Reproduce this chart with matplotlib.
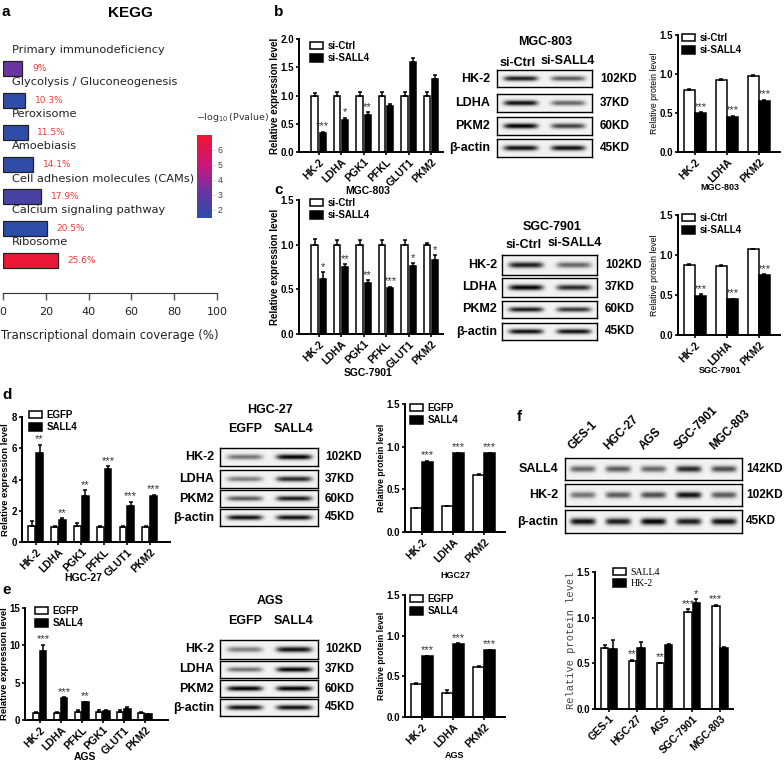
""" SALL4 / glycolysis figure """
import numpy as np
import matplotlib
matplotlib.use('Agg')
import matplotlib.pyplot as plt
from matplotlib.colors import LinearSegmentedColormap, Normalize
from matplotlib.cm import ScalarMappable
from matplotlib.patches import Patch

plt.rcParams['font.family'] = ['Liberation Sans', 'DejaVu Sans']

# ---- a: KEGG ----
kegg_terms = ['Primary immunodeficiency', 'Glycolysis / Gluconeogenesis', 'Peroxisome',
              'Amoebiasis', 'Cell adhesion molecules (CAMs)', 'Calcium signaling pathway', 'Ribosome']
kegg_cov = [9.0, 10.3, 11.5, 14.1, 17.9, 20.5, 25.6]
kegg_logp = [3.2, 1.6, 1.6, 1.6, 2.3, 1.5, 6.8]

# ---- b / c: knockdown ----
genes6 = ['HK-2', 'LDHA', 'PGK1', 'PFKL', 'GLUT1', 'PKM2']
genes3 = ['HK-2', 'LDHA', 'PKM2']
b_ctrl = [1.0, 1.0, 1.0, 1.0, 1.0, 1.0]
b_ctrl_err = [0.05, 0.07, 0.06, 0.07, 0.06, 0.06]
b_si = [0.34, 0.57, 0.65, 0.81, 1.59, 1.29]
b_si_err = [0.02, 0.04, 0.05, 0.04, 0.08, 0.08]
b_stars = ['***', '*', '**', '', '', '']
b_prot_ctrl = [0.80, 0.92, 0.98]
b_prot_ctrl_err = [0.01, 0.01, 0.01]
b_prot_si = [0.50, 0.45, 0.66]
b_prot_si_err = [0.01, 0.01, 0.01]
b_prot_stars = ['***', '***', '***']
b_blot = {'HK-2': [0.85, 0.6], 'LDHA': [0.9, 0.55], 'PKM2': [0.95, 0.7], 'β-actin': [0.9, 0.9]}

c_ctrl = [1.0, 1.0, 1.0, 1.0, 1.0, 1.0]
c_ctrl_err = [0.06, 0.05, 0.05, 0.05, 0.05, 0.02]
c_si = [0.62, 0.75, 0.57, 0.52, 0.76, 0.83]
c_si_err = [0.07, 0.03, 0.03, 0.01, 0.03, 0.05]
c_stars = ['*', '**', '**', '***', '*', '*']
c_prot_ctrl = [0.88, 0.86, 1.07]
c_prot_ctrl_err = [0.005, 0.02, 0.005]
c_prot_si = [0.49, 0.45, 0.75]
c_prot_si_err = [0.02, 0.005, 0.01]
c_prot_stars = ['***', '***', '***']
c_blot = {'HK-2': [0.85, 0.55], 'LDHA': [0.95, 0.8], 'PKM2': [0.85, 0.75], 'β-actin': [0.9, 0.9]}

# ---- d / e: overexpression ----
d_egfp = [1.0, 0.97, 1.0, 0.97, 0.97, 0.97]
d_egfp_err = [0.35, 0.05, 0.2, 0.06, 0.06, 0.06]
d_sall4 = [5.7, 1.42, 2.95, 4.65, 2.3, 2.95]
d_sall4_err = [0.5, 0.1, 0.35, 0.2, 0.25, 0.05]
d_stars = ['**', '**', '**', '***', '***', '***']
d_prot_egfp = [0.28, 0.30, 0.67]
d_prot_egfp_err = [0.005, 0.01, 0.01]
d_prot_sall4 = [0.82, 0.92, 0.92]
d_prot_sall4_err = [0.01, 0.005, 0.005]
d_prot_stars = ['***', '***', '***']
d_blot = {'HK-2': [0.5, 0.95], 'LDHA': [0.45, 0.8], 'PKM2': [0.6, 0.85], 'β-actin': [0.9, 0.9]}

genes6_e = ['HK-2', 'LDHA', 'PFKL', 'PGK1', 'GLUT1', 'PKM2']
e_egfp = [1.0, 1.0, 1.1, 1.1, 1.1, 1.0]
e_egfp_err = [0.1, 0.05, 0.2, 0.3, 0.2, 0.05]
e_sall4 = [9.3, 3.0, 2.4, 1.25, 1.5, 0.8]
e_sall4_err = [0.8, 0.05, 0.05, 0.1, 0.3, 0.05]
e_stars = ['***', '***', '**', '', '', '']
e_prot_egfp = [0.40, 0.30, 0.62]
e_prot_egfp_err = [0.02, 0.03, 0.005]
e_prot_sall4 = [0.75, 0.90, 0.82]
e_prot_sall4_err = [0.005, 0.005, 0.005]
e_prot_stars = ['***', '***', '***']
e_blot = {'HK-2': [0.45, 0.9], 'LDHA': [0.5, 0.95], 'PKM2': [0.95, 0.97], 'β-actin': [0.9, 0.9]}

# ---- f: cell lines ----
f_lines = ['GES-1', 'HGC-27', 'AGS', 'SGC-7901', 'MGC-803']
f_sall4 = [0.67, 0.53, 0.50, 1.06, 1.13]
f_sall4_err = [0.03, 0.01, 0.005, 0.03, 0.01]
f_hk2 = [0.66, 0.67, 0.70, 1.16, 0.67]
f_hk2_err = [0.10, 0.06, 0.01, 0.04, 0.005]
f_sall4_stars = ['', '**', '**', '***', '***']
f_hk2_stars = ['', '', '', '*', '']
f_blot = {'SALL4': [0.55, 0.6, 0.55, 0.8, 0.65], 'HK-2': [0.5, 0.6, 0.65, 0.9, 0.6],
          'β-actin': [0.9, 0.85, 0.95, 0.85, 0.9]}

W, H = 784, 765
fig = plt.figure(figsize=(W / 100, H / 100), dpi=100)


def box(x0, y0, x1, y1):
    # axes from pixel corners (top-left origin)
    ax = fig.add_axes([x0 / W, 1 - y1 / H, (x1 - x0) / W, (y1 - y0) / H])
    ax._px = (x0, x1)
    return ax


def ftext(x, y, s, **kw):
    fig.text(x / W, 1 - y / H, s, **kw)


def grouped(ax, labels, v1, e1, v2, e2, st1, st2, width, off, ylim, yticks, ytl,
            ylabel, ylabel_kw, ylabel_x, fs=7, star_fs=8):
    x = np.arange(len(labels))
    ax.bar(x - off, v1, width, color='white', edgecolor='black', lw=1.1, zorder=2)
    ax.bar(x + off, v2, width, color='black', edgecolor='black', lw=1.1, zorder=2)
    ax.errorbar(x - off, v1, yerr=[np.zeros(len(x)), e1], fmt='none', ecolor='black',
                elinewidth=1.1, capsize=1.6, capthick=1.1, zorder=3)
    ax.errorbar(x + off, v2, yerr=[np.zeros(len(x)), e2], fmt='none', ecolor='black',
                elinewidth=1.1, capsize=1.6, capthick=1.1, zorder=3)
    pad = (ylim[1] - ylim[0]) * 0.005
    for i in range(len(x)):
        if st1[i]:
            ax.text(x[i] - off, v1[i] + e1[i] + pad, st1[i], ha='center', va='bottom',
                    fontsize=star_fs, color='#333')
        if st2[i]:
            ax.text(x[i] + off, v2[i] + e2[i] + pad, st2[i], ha='center', va='bottom',
                    fontsize=star_fs, color='#333')
    ax.set_ylim(*ylim)
    ax.set_yticks(yticks)
    ax.set_yticklabels(ytl, fontweight='bold', fontsize=fs)
    ax.set_xticks(x)
    ax.set_xticklabels(labels, rotation=45, ha='right', rotation_mode='anchor',
                       fontweight='bold', fontsize=7.5)
    for s in ['top', 'right']:
        ax.spines[s].set_visible(False)
    for s in ['left', 'bottom']:
        ax.spines[s].set_linewidth(1.4)
    ax.tick_params(direction='out', length=2.5, width=1.2, pad=1)
    ax.set_ylabel(ylabel, **ylabel_kw)
    # ylabel_x: right edge of the rotated label, in pixels
    x0, x1 = ax._px
    ax.yaxis.set_label_coords((ylabel_x - x0) / (x1 - x0), 0.5)


def legend(ax, x, y, names, fs=7, weight='bold', family=None):
    hs = [Patch(facecolor='white', edgecolor='black', lw=1.1),
          Patch(facecolor='black', edgecolor='black', lw=1.1)]
    prop = {'size': fs, 'weight': weight}
    if family:
        prop['family'] = family
    ax.legend(hs, names, loc='upper left', bbox_to_anchor=(x / W, 1 - y / H),
              bbox_transform=fig.transFigure, frameon=False, handlelength=1.3,
              handleheight=0.75, borderpad=0, borderaxespad=0, labelspacing=0.25,
              handletextpad=0.5, prop=prop)


def blot(x0, x1, rows, blots, label_x, kd_x, kds, fs=9):
    for (name, (y0, y1)), kd in zip(rows.items(), kds):
        ax = box(x0, y0, x1, y1)
        vals = blots[name]
        n = len(vals)
        xs = np.linspace(0, n, 240)
        ys = np.linspace(-1, 1, 40)
        img = np.full((40, 240), 0.05)
        for k, v in enumerate(vals):
            px = np.exp(-((xs - k - 0.5) / 0.36) ** 6)
            py = np.exp(-(ys / 0.3) ** 2)
            img += v * np.outer(py, px)
        ax.imshow(np.clip(img, 0, 1), cmap='gray_r', vmin=0, vmax=1, aspect='auto',
                  extent=(0, n, -1, 1), interpolation='bilinear')
        ax.set_xticks([])
        ax.set_yticks([])
        for s in ax.spines.values():
            s.set_linewidth(1.0)
        yc = (y0 + y1) / 2
        ftext(label_x, yc, name, ha='right', va='center', fontsize=fs, fontweight='bold')
        ftext(kd_x, yc, kd, ha='left', va='center', fontsize=fs - 0.5, fontweight='bold')


t15 = [0, 0.5, 1.0, 1.5]
t15l = ['0.0', '0.5', '1.0', '1.5']

# ================= a =================
ftext(2, 12, 'a', fontsize=11, fontweight='bold', va='center')
ftext(130, 13, 'KEGG', fontsize=11, fontweight='bold', ha='center', va='center')
cmap = LinearSegmentedColormap.from_list('kegg', [(0, '#2a4ea8'), (0.32, '#6a34a2'),
                                                  (0.62, '#c8177f'), (1, '#f0162e')])
norm = Normalize(1.45, 7.0)
ax_a = box(3, 40, 217, 293)
ya = np.arange(len(kegg_terms))
ax_a.barh(ya, kegg_cov, height=0.47, color=cmap(norm(np.array(kegg_logp))),
          edgecolor='#222', lw=0.9)
for i, (t, v) in enumerate(zip(kegg_terms, kegg_cov)):
    ax_a.text(4.2, i - 0.58, t, fontsize=8.2, va='center', ha='left', color='#222',
              family='DejaVu Sans')
    ax_a.text(v + 4.5, i, f'{v:g}%', fontsize=6.5, va='center', color='#f03a3a',
              family='DejaVu Sans')
ax_a.set_xlim(0, 100)
ax_a.set_ylim(len(kegg_terms) - 1 + 1.0, -0.89)
ax_a.set_yticks([])
ax_a.set_xticks([0, 20, 40, 60, 80, 100])
for s in ['top', 'right', 'left']:
    ax_a.spines[s].set_visible(False)
ax_a.spines['bottom'].set_color('#333')
ax_a.tick_params(axis='x', length=5, width=1, color='#555', labelsize=8, pad=5,
                 labelcolor='#222')
for t in ax_a.get_xticklabels():
    t.set_family('DejaVu Sans')
ax_a.set_xlabel('Transcriptional domain coverage (%)', fontsize=8.5, family='DejaVu Sans',
                labelpad=9, color='#222')
cax = box(197, 135, 212, 218)
cb = fig.colorbar(ScalarMappable(norm=norm, cmap=cmap), cax=cax)
cb.outline.set_visible(False)
cb.set_ticks([2, 3, 4, 5, 6])
cax.tick_params(labelsize=6.3, length=2, color='#ddd', labelcolor='#444', pad=2)
ftext(196, 118, r'$-\log_{10}$(Pvalue)', fontsize=6.8, color='#333', va='center',
      family='DejaVu Sans')

# ================= b =================
big_lab = dict(fontsize=7, fontweight='bold')
small_lab = dict(fontsize=6.3)
ftext(274, 12, 'b', fontsize=11, fontweight='bold', va='center')
ax = box(299, 39, 443, 152)
grouped(ax, genes6, b_ctrl, b_ctrl_err, b_si, b_si_err, [''] * 6, b_stars, 0.27, 0.18,
        (0, 2.0), [0, 0.5, 1.0, 1.5, 2.0], ['0.0', '0.5', '1.0', '1.5', '2.0'],
        'Relative expression level', big_lab, 280)
ax.set_xlim(-0.87, 5.53)
legend(ax, 310, 41, ['si-Ctrl', 'si-SALL4'])
ftext(368, 191, 'MGC-803', fontsize=7.5, fontweight='bold', ha='center', va='center')

ftext(545, 42, 'MGC-803', fontsize=9, fontweight='bold', ha='center', va='center')
ftext(518, 63, 'si-Ctrl', fontsize=9, fontweight='bold', ha='center', va='center')
ftext(568, 61, 'si-SALL4', fontsize=9, fontweight='bold', ha='center', va='center')
blot(497, 592, {'HK-2': (70, 87), 'LDHA': (94, 112), 'PKM2': (117, 135), 'β-actin': (139, 157)},
     b_blot, 490, 600, ['102KD', '37KD', '60KD', '45KD'])

ax = box(678, 35, 780, 152)
grouped(ax, genes3, b_prot_ctrl, b_prot_ctrl_err, b_prot_si, b_prot_si_err, [''] * 3,
        b_prot_stars, 0.35, 0.175, (0, 1.5), t15, t15l, 'Relative protein level',
        small_lab, 659)
ax.set_xlim(-0.53, 2.66)
legend(ax, 682, 33, ['si-Ctrl', 'si-SALL4'])
ftext(720, 187, 'MGC-803', fontsize=6.5, fontweight='bold', ha='center', va='center')

# ================= c =================
ftext(274, 190, 'c', fontsize=11, fontweight='bold', va='center')
ax = box(299, 200, 443, 334)
grouped(ax, genes6, c_ctrl, c_ctrl_err, c_si, c_si_err, [''] * 6, c_stars, 0.27, 0.18,
        (0, 1.5), t15, t15l, 'Relative expression level', big_lab, 280)
ax.set_xlim(-0.87, 5.53)
legend(ax, 310, 198, ['si-Ctrl', 'si-SALL4'])
ftext(368, 373, 'SGC-7901', fontsize=7.5, fontweight='bold', ha='center', va='center')

ftext(552, 227, 'SGC-7901', fontsize=9, fontweight='bold', ha='center', va='center')
ftext(524, 245, 'si-Ctrl', fontsize=9, fontweight='bold', ha='center', va='center')
ftext(575, 243, 'si-SALL4', fontsize=9, fontweight='bold', ha='center', va='center')
blot(502, 597, {'HK-2': (255, 275), 'LDHA': (278, 297), 'PKM2': (301, 318), 'β-actin': (323, 340)},
     c_blot, 497, 605, ['102KD', '37KD', '60KD', '45KD'])

ax = box(678, 215, 780, 335)
grouped(ax, genes3, c_prot_ctrl, c_prot_ctrl_err, c_prot_si, c_prot_si_err, [''] * 3,
        c_prot_stars, 0.35, 0.175, (0, 1.5), t15, t15l, 'Relative protein level',
        small_lab, 659)
ax.set_xlim(-0.53, 2.66)
legend(ax, 682, 213, ['si-Ctrl', 'si-SALL4'])
ftext(720, 370, 'SGC-7901', fontsize=6.5, fontweight='bold', ha='center', va='center')

# ================= d =================
ftext(2, 395, 'd', fontsize=11, fontweight='bold', va='center')
ax = box(22, 417, 170, 542)
grouped(ax, genes6, d_egfp, d_egfp_err, d_sall4, d_sall4_err, [''] * 6, d_stars, 0.3, 0.17,
        (0, 8), [0, 2, 4, 6, 8], ['0', '2', '4', '6', '8'], 'Relative expression level',
        dict(fontsize=6.8, fontweight='bold'), 10)
ax.set_xlim(-0.6, 5.89)
legend(ax, 29, 410, ['EGFP', 'SALL4'])
ftext(83, 578, 'HGC-27', fontsize=7.5, fontweight='bold', ha='center', va='center')

ftext(270, 410, 'HGC-27', fontsize=9, fontweight='bold', ha='center', va='center')
ftext(245, 429, 'EGFP', fontsize=9, fontweight='bold', ha='center', va='center')
ftext(294, 429, 'SALL4', fontsize=9, fontweight='bold', ha='center', va='center')
blot(220, 318, {'HK-2': (448, 466), 'LDHA': (470, 488), 'PKM2': (490, 507), 'β-actin': (509, 526)},
     d_blot, 214, 325, ['102KD', '37KD', '60KD', '45KD'])

ax = box(405, 404, 505, 532)
grouped(ax, genes3, d_prot_egfp, d_prot_egfp_err, d_prot_sall4, d_prot_sall4_err, [''] * 3,
        d_prot_stars, 0.35, 0.175, (0, 1.5), t15, t15l, 'Relative protein level',
        dict(fontsize=6.3, fontweight='bold'), 386)
ax.set_xlim(-0.53, 2.66)
legend(ax, 410, 403, ['EGFP', 'SALL4'])
ftext(455, 575, 'HGC27', fontsize=6.5, fontweight='bold', ha='center', va='center')

# ================= e =================
ftext(2, 590, 'e', fontsize=11, fontweight='bold', va='center')
ax = box(25, 608, 168, 720)
grouped(ax, genes6_e, e_egfp, e_egfp_err, e_sall4, e_sall4_err, [''] * 6, e_stars, 0.3, 0.17,
        (0, 15), [0, 5, 10, 15], ['0', '5', '10', '15'], 'Relative expression level',
        dict(fontsize=6.8, fontweight='bold'), 9)
ax.set_xlim(-0.7, 6.1)
legend(ax, 35, 606, ['EGFP', 'SALL4'])
ftext(85, 757, 'AGS', fontsize=7.5, fontweight='bold', ha='center', va='center')

ftext(270, 601, 'AGS', fontsize=9, fontweight='bold', ha='center', va='center')
ftext(245, 621, 'EGFP', fontsize=9, fontweight='bold', ha='center', va='center')
ftext(294, 621, 'SALL4', fontsize=9, fontweight='bold', ha='center', va='center')
blot(220, 318, {'HK-2': (640, 659), 'LDHA': (661, 678), 'PKM2': (680, 697), 'β-actin': (699, 716)},
     e_blot, 214, 325, ['102KD', '37KD', '60KD', '45KD'])

ax = box(405, 595, 505, 717)
grouped(ax, genes3, e_prot_egfp, e_prot_egfp_err, e_prot_sall4, e_prot_sall4_err, [''] * 3,
        e_prot_stars, 0.35, 0.175, (0, 1.5), t15, t15l, 'Relative protein level',
        dict(fontsize=6.3, fontweight='bold'), 386)
ax.set_xlim(-0.53, 2.66)
legend(ax, 410, 594, ['EGFP', 'SALL4'])
ftext(455, 756, 'AGS', fontsize=6.5, fontweight='bold', ha='center', va='center')

# ================= f =================
ftext(517, 417, 'f', fontsize=11, fontweight='bold', va='center')
lane_x = np.linspace(565, 742, 6)[:-1] + (742 - 565) / 10
for lx, name in zip(lane_x, f_lines):
    ftext(lx - 8, 452, name, fontsize=8.5, fontweight='bold', rotation=45, ha='left',
          va='bottom', rotation_mode='anchor')
blot(565, 742, {'SALL4': (458, 480), 'HK-2': (484, 506), 'β-actin': (510, 533)},
     f_blot, 558, 746, ['142KD', '102KD', '45KD'])

ax = box(595, 572, 733, 709)
grouped(ax, f_lines, f_sall4, f_sall4_err, f_hk2, f_hk2_err, f_sall4_stars, f_hk2_stars,
        0.27, 0.15, (0, 1.5), t15, t15l, 'Relative protein level',
        dict(fontsize=7.5, family='Liberation Mono', color='#444'), 576)
ax.set_xlim(-0.5, 4.47)
legend(ax, 613, 568, ['SALL4', 'HK-2'], fs=7, weight='normal', family='Liberation Serif')

fig.savefig('out.png', dpi=100)
